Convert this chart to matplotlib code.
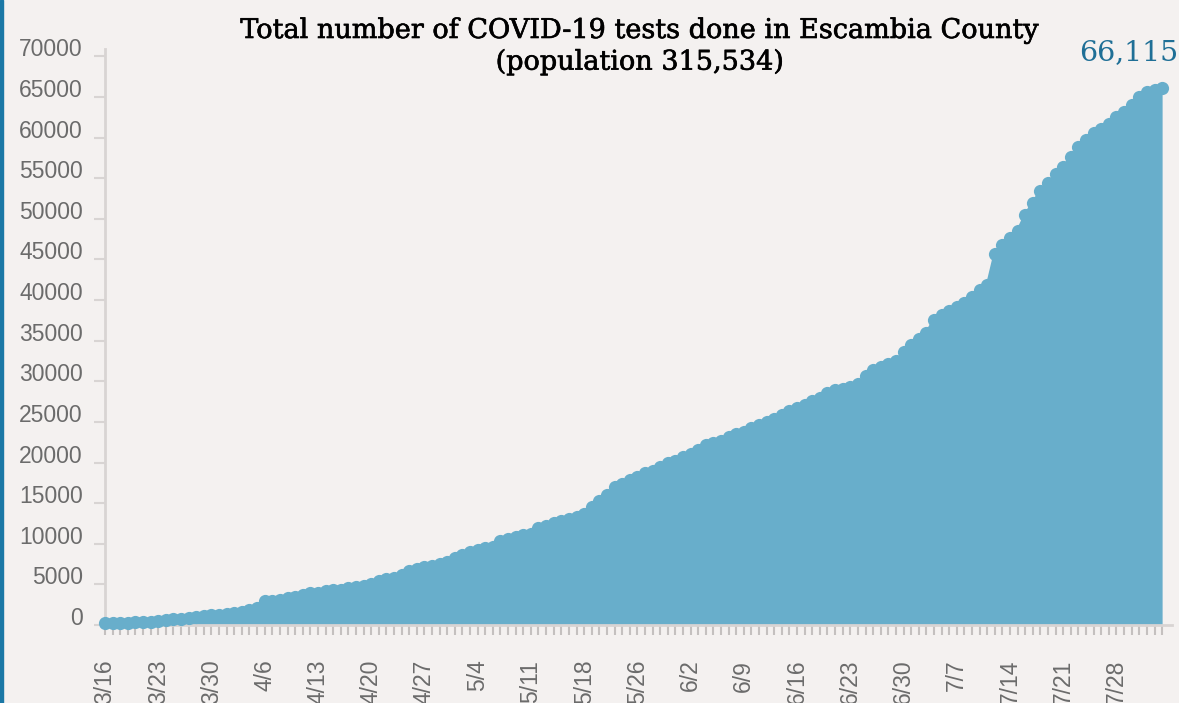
import matplotlib
matplotlib.use('Agg')
import matplotlib.pyplot as plt
import matplotlib.patheffects as pe
from matplotlib.patches import Rectangle
import pandas as pd

# daily dates (5/25 not reported)
days = [d for d in pd.date_range('2020-03-16', '2020-08-03') if d.strftime('%m-%d') != '05-25']
day_labels = ['{0}/{1}'.format(d.month, d.day) for d in days]

# cumulative tests
tests = [
    250, 260, 270, 290, 310, 330, 380,
    450, 560, 680, 790, 900, 1000, 1100,
    1200, 1260, 1330, 1480, 1640, 1800, 2150,
    2950, 3000, 3050, 3300, 3500, 3700, 3900,
    4000, 4150, 4250, 4350, 4500, 4650, 4800,
    5000, 5450, 5650, 5830, 6200, 6700, 6900,
    7100, 7250, 7550, 7800, 8200, 8600, 8950,
    9250, 9450, 9600, 10350, 10600, 10850, 11050,
    11250, 11980, 12200, 12500, 12750, 13000, 13250,
    13700, 14500, 15300, 16000, 17000, 17400, 17800,
    18200, 18700, 19000, 19500, 19900, 20200, 20700,
    21000, 21600, 22100, 22400, 22700, 23100, 23500,
    23800, 24200, 24600, 25000, 25400, 25900, 26300,
    26700, 27100, 27600, 28000, 28500, 28900, 29100,
    29350, 29700, 30700, 31400, 31800, 32100, 32500,
    33600, 34500, 35200, 36000, 37500, 38200, 38600,
    39100, 39600, 40400, 41200, 41800, 45700, 46800,
    47600, 48500, 50500, 52000, 53400, 54400, 55500,
    56400, 57600, 58800, 59700, 60500, 61100, 61700,
    62500, 63200, 64000, 65000, 65600, 65900, 66115,
]

title = 'Total number of COVID-19 tests done in Escambia County\n(population 315,534)'
last_label = '66,115'

bg = '#f4f1f0'
fill_col = '#68aecb'
grey_line = '#d8d4d3'
tick_col = '#c4c0bf'
text_grey = '#6b6b6b'

W, H = 1179, 703
fig = plt.figure(figsize=(W / 100, H / 100), dpi=100, facecolor=bg)
ax = fig.add_axes([105 / W, (H - 625) / H, 1067 / W, 576 / H])
ax.set_facecolor(bg)

x = list(range(len(tests)))
ax.fill_between(x, tests, 0, color=fill_col, linewidth=0)
ax.plot(x, tests, color=fill_col, linewidth=2, marker='o', markersize=9.5,
        markeredgewidth=0, clip_on=False, zorder=3)

ax.set_xlim(0, 140.3)
ax.set_ylim(0, 70900)

ax.set_yticks(range(0, 70001, 5000))
ax.set_yticklabels([str(v) for v in range(0, 70001, 5000)])
ax.set_xticks(x)
ax.set_xticklabels([lab if i % 7 == 0 else '' for i, lab in enumerate(day_labels)],
                   rotation=90)

for s in ['top', 'right']:
    ax.spines[s].set_visible(False)
for s in ['left', 'bottom']:
    ax.spines[s].set_color(grey_line)
    ax.spines[s].set_linewidth(2)

ax.tick_params(axis='y', length=8, width=1.5, color=grey_line, pad=8,
               labelsize=16.5, labelcolor=text_grey)
ax.tick_params(axis='x', length=7, width=1.5, color=tick_col, pad=18,
               labelsize=16.5, labelcolor=text_grey)
for lab in ax.get_yticklabels():
    lab.set_fontfamily('Liberation Sans')
    lab.set_va('baseline')
for lab in ax.get_xticklabels():
    lab.set_fontfamily('Liberation Sans')
    lab.set_va('top')

fig.text(640 / W, 1 - 17 / H, title, ha='center', va='top', fontsize=19.5,
         family='DejaVu Serif', color='black', linespacing=1.2,
         path_effects=[pe.withStroke(linewidth=0.45, foreground='black')])

ax.annotate(last_label, xy=(x[-1], tests[-1]), xytext=(12, 20),
            textcoords='offset points', ha='right', va='baseline',
            fontsize=20.5, family='DejaVu Serif', color='#1f6f96',
            annotation_clip=False)

fig.patches.append(Rectangle((0, 0), 3 / W, 1, transform=fig.transFigure,
                             color='#1b78a6', zorder=5))

fig.savefig('out.png', dpi=100, facecolor=bg)
